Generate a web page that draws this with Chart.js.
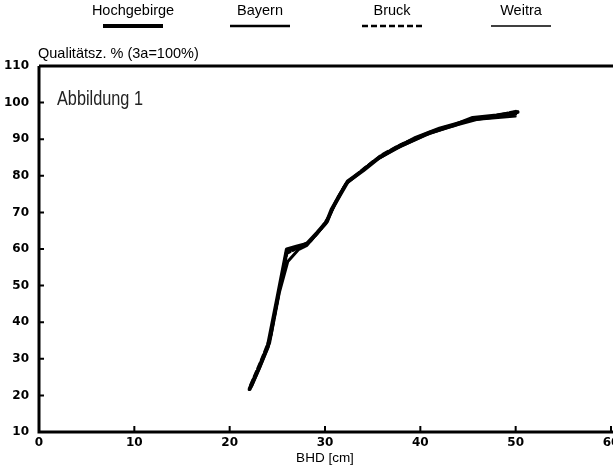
<!DOCTYPE html>
<html>
<head>
<meta charset="utf-8">
<script src="https://cdn.jsdelivr.net/npm/chart.js@4/dist/chart.umd.min.js"></script>
<style>
  html, body { margin: 0; padding: 0; background: #fff; }
  #wrap { width: 613px; height: 470px; }
</style>
</head>
<body>
<div id="wrap"><canvas id="js-line-chart" width="613" height="470"></canvas></div>
<script>
// values (BHD in cm, quality %)
const seriesNames = ["Hochgebirge", "Bayern", "Bruck", "Weitra"];

const hochX = [22.1, 23.0, 24.0, 25.0, 26.0, 27.0, 28.1, 29.2, 30.2, 30.7, 31.5, 32.4, 34.0, 35.7, 37.5, 41.0, 43.5, 45.5, 48.0, 50.2];
const hochY = [21.8, 27.0, 33.3, 46.5, 59.9, 60.6, 61.4, 64.5, 67.5, 70.8, 74.5, 78.5, 81.5, 85.0, 87.7, 91.8, 93.8, 95.8, 96.5, 97.4];

const bayX = [22.3, 23.2, 24.2, 25.2, 26.1, 27.2, 28.1, 29.0, 30.1, 31.0, 32.2, 33.5, 35.0, 37.0, 39.5, 42.0, 45.0, 47.5, 50.0];
const bayY = [22.5, 28.0, 34.5, 48.0, 56.6, 59.8, 61.0, 63.8, 67.0, 72.0, 77.8, 80.5, 83.8, 87.0, 90.5, 93.0, 95.2, 95.9, 96.8];

const bruX = [22.2, 23.3, 24.3, 25.3, 26.0, 27.5, 28.5, 29.5, 30.4, 31.3, 32.3, 34.2, 36.0, 38.0, 40.0, 42.5, 45.0, 47.5, 50.0];
const bruY = [22.8, 29.5, 36.0, 50.0, 58.8, 60.8, 62.2, 65.2, 68.8, 73.8, 78.2, 82.2, 85.8, 88.6, 90.8, 93.2, 95.0, 96.2, 97.6];

const weiX = [22.0, 23.1, 24.1, 25.1, 25.9, 27.0, 28.0, 29.0, 30.0, 31.0, 32.0, 33.5, 35.5, 38.0, 40.5, 43.0, 46.0, 50.0];
const weiY = [21.5, 27.5, 33.8, 47.5, 59.2, 60.2, 61.0, 63.6, 66.8, 72.5, 77.2, 80.6, 84.4, 88.0, 91.0, 93.2, 95.3, 96.2];

const xTicks = [0, 10, 20, 30, 40, 50, 60];
const yTicks = [10, 20, 30, 40, 50, 60, 70, 80, 90, 100, 110];

const xTitle = "BHD [cm]";
const yTitle = "Qualitätsz. % (3a=100%)";
const figLabel = "Abbildung 1";

const pts = (xs, ys) => xs.map((x, i) => ({ x: x, y: ys[i] }));

// legend drawn as text with a line sample underneath
const legendCenters = [133, 260, 392, 521];
const sketchLegend = {
    id: "sketchLegend",
    afterDraw(chart) {
        const ctx = chart.ctx;
        const area = chart.chartArea;
        ctx.save();
        ctx.fillStyle = "#000";
        ctx.strokeStyle = "#000";
        ctx.font = "14.5px 'Liberation Sans', Arial, sans-serif";
        ctx.textAlign = "center";
        ctx.textBaseline = "middle";
        chart.data.datasets.forEach((ds, i) => {
            const cx = legendCenters[i];
            ctx.fillText(ds.label, cx, 11);
            ctx.beginPath();
            ctx.lineWidth = ds.legendWidth;
            ctx.setLineDash(ds.borderDash || []);
            ctx.moveTo(cx - 30, 26);
            ctx.lineTo(cx + 30, 26);
            ctx.stroke();
        });
        ctx.setLineDash([]);

        // y axis title, written horizontally above the plot
        ctx.textAlign = "left";
        ctx.fillText(yTitle, 38, 54);

        // figure label, narrow like the scan
        ctx.save();
        ctx.fillStyle = "#222";
        ctx.font = "20px 'Liberation Sans', Arial, sans-serif";
        const w = ctx.measureText(figLabel).width;
        ctx.translate(57, 99);
        ctx.scale(86 / w, 1);
        ctx.fillText(figLabel, 0, 0);
        ctx.restore();

        // top frame line and axis lines
        ctx.lineWidth = 3;
        ctx.beginPath();
        ctx.moveTo(area.left, area.top);
        ctx.lineTo(chart.width, area.top);
        ctx.moveTo(area.left, area.top);
        ctx.lineTo(area.left, area.bottom);
        ctx.lineTo(chart.width, area.bottom);
        ctx.stroke();

        // inward tick marks
        const xs = chart.scales.x;
        const ys = chart.scales.y;
        ctx.lineWidth = 2;
        ctx.beginPath();
        xs.ticks.forEach((t) => {
            const px = xs.getPixelForValue(t.value);
            ctx.moveTo(px, area.bottom);
            ctx.lineTo(px, area.bottom - 6);
        });
        ys.ticks.forEach((t) => {
            const py = ys.getPixelForValue(t.value);
            ctx.moveTo(area.left, py);
            ctx.lineTo(area.left + 5, py);
        });
        ctx.stroke();
        ctx.restore();
    },
};

const ctx = document.getElementById("js-line-chart").getContext("2d");
const chartId = new Chart(ctx, {
    type: "scatter",
    data: {
        datasets: [
            {
                label: seriesNames[0],
                data: pts(hochX, hochY),
                borderColor: "#000",
                borderWidth: 4,
                legendWidth: 4,
            },
            {
                label: seriesNames[1],
                data: pts(bayX, bayY),
                borderColor: "#000",
                borderWidth: 3,
                legendWidth: 2.5,
            },
            {
                label: seriesNames[2],
                data: pts(bruX, bruY),
                borderColor: "#000",
                borderWidth: 3,
                legendWidth: 2.5,
                borderDash: [6, 3],
            },
            {
                label: seriesNames[3],
                data: pts(weiX, weiY),
                borderColor: "#000",
                borderWidth: 2,
                legendWidth: 1.5,
            },
        ],
    },
    options: {
        responsive: false,
        animation: false,
        showLine: true,
        elements: {
            point: { radius: 0, hoverRadius: 0 },
            line: { tension: 0, fill: false, borderCapStyle: "round", borderJoinStyle: "round" },
        },
        layout: { padding: { top: 66, left: 0, right: 2, bottom: 0 } },
        plugins: {
            legend: { display: false },
            tooltip: { enabled: false },
        },
        scales: {
            x: {
                type: "linear",
                min: xTicks[0],
                max: xTicks[xTicks.length - 1],
                afterBuildTicks: (scale) => {
                    scale.ticks = xTicks.map((v) => ({ value: v }));
                },
                afterFit: (scale) => {
                    scale.height = 38;
                    scale.paddingLeft = 0;
                    scale.paddingRight = 0;
                },
                grid: { display: false, drawTicks: false },
                border: { display: false },
                ticks: {
                    color: "#000",
                    padding: 4,
                    maxRotation: 0,
                    font: { family: "'DejaVu Sans'", size: 12, weight: "bold" },
                },
                title: {
                    display: true,
                    text: xTitle,
                    color: "#000",
                    padding: { top: 0, bottom: 4 },
                    font: { family: "'Liberation Sans'", size: 13.5 },
                },
            },
            y: {
                type: "linear",
                min: yTicks[0],
                max: yTicks[yTicks.length - 1],
                afterBuildTicks: (scale) => {
                    scale.ticks = yTicks.map((v) => ({ value: v }));
                },
                afterFit: (scale) => {
                    scale.width = 39;
                },
                grid: { display: false, drawTicks: false },
                border: { display: false },
                ticks: {
                    color: "#000",
                    padding: 10,
                    font: { family: "'DejaVu Sans'", size: 12, weight: "bold" },
                },
            },
        },
    },
    plugins: [sketchLegend],
});
</script>
</body>
</html>
